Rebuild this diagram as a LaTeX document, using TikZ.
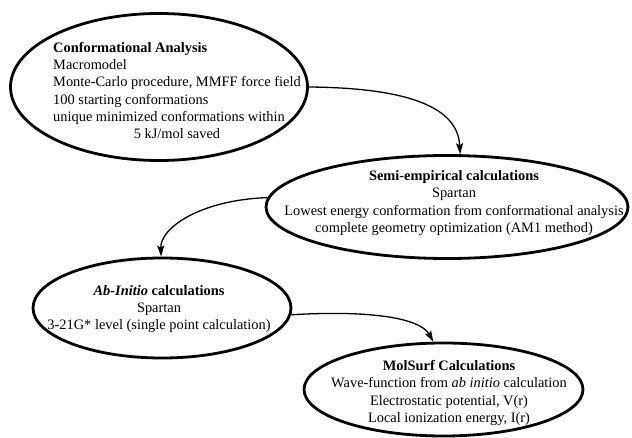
\documentclass[tikz,border=0pt]{standalone}
\usepackage{fontspec}
\setmainfont{Liberation Serif}
\usetikzlibrary{shapes.geometric,arrows.meta}
\begin{document}
\begin{tikzpicture}[x=1pt,y=-1pt,
  oval/.style={draw,ellipse,line width=2.8pt,inner sep=0pt},
  txt/.style={font=\fontsize{14.4}{17.3}\selectfont,inner sep=0pt},
  conn/.style={line width=1.3pt,-{Stealth[length=11pt,width=7pt,inset=2pt]}}]
\useasboundingbox (0,0) rectangle (632,438);
\node[oval,minimum width=297pt,minimum height=147pt] (e1) at (159,87) {};
\node[oval,minimum width=362pt,minimum height=103pt] (e2) at (447,207) {};
\node[oval,minimum width=258pt,minimum height=100pt] (e3) at (162,308) {};
\node[oval,minimum width=279pt,minimum height=93pt] (e4) at (443.5,389.5) {};
\node[txt,anchor=west,align=left] (t1) at (53,92) {\begin{tabular}{@{}l@{}}
\textbf{Conformational Analysis}\\
Macromodel\\
Monte-Carlo procedure, MMFF force field\\
100 starting conformations\\
unique minimized conformations within\\
\multicolumn{1}{@{}c@{}}{5 kJ/mol saved}
\end{tabular}};
\node[txt,align=center] (t2) at (454,203) {\textbf{Semi-empirical calculations}\\
Spartan\\
Lowest energy conformation from conformational analysis\\
complete geometry optimization (AM1 method)};
\node[txt,align=center] (t3) at (159,309) {\textbf{\textit{Ab-Initio} calculations}\\
Spartan\\
3-21G* level (single point calculation)};
\node[txt,align=center] (t4) at (449,393) {\textbf{MolSurf Calculations}\\
Wave-function from \textit{ab initio} calculation\\
Electrostatic potential, V(r)\\
Local ionization energy, I(r)};
\draw[conn] (e1.east) .. controls (420,88) and (458,112) .. (e2.76);
\draw[conn] (e2.177) .. controls (200,200) and (160,228) .. (e3.91);
\draw[conn] (e3.-3) .. controls (370,310) and (420,318) .. (e4.102);
\end{tikzpicture}
\end{document}
